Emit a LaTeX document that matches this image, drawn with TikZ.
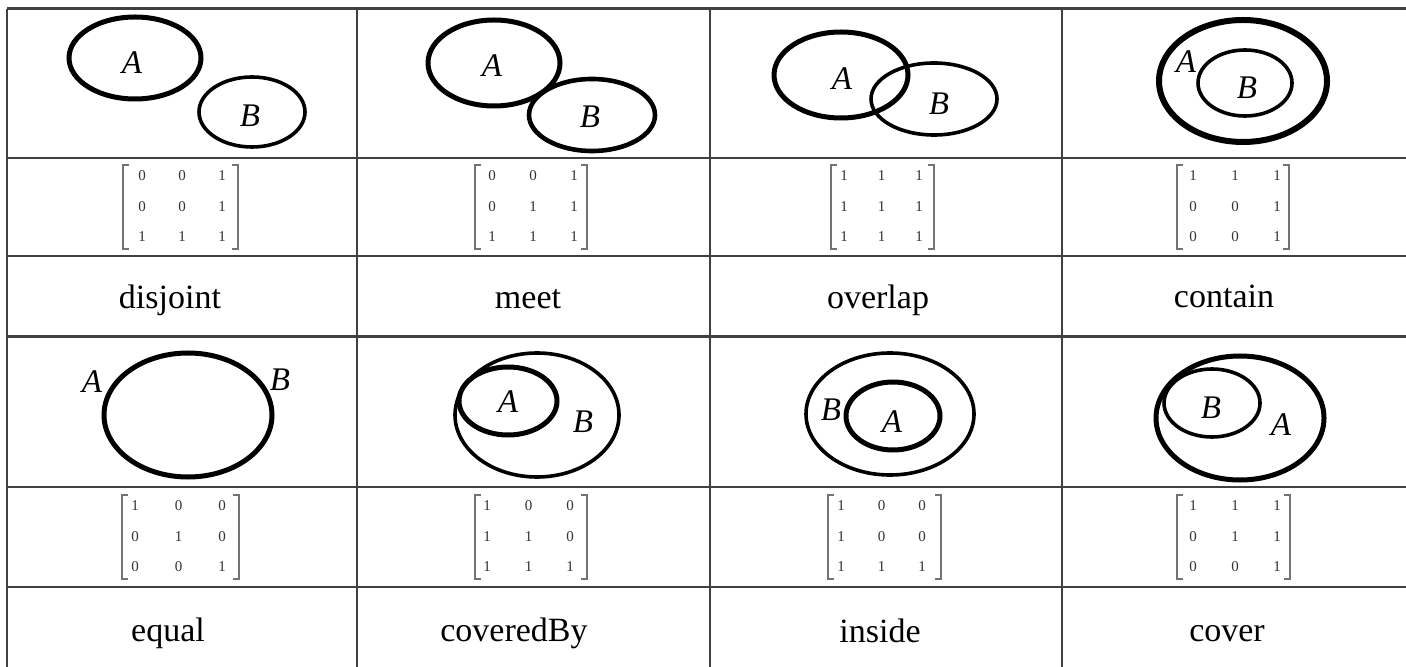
\documentclass[tikz,border=0pt]{standalone}
\usepackage{fontspec}
\setmainfont{Liberation Serif}
\begin{document}
\begin{tikzpicture}[x=0.5pt,y=-0.5pt,
  grid/.style={draw=black!75,line width=1pt},
  heavy/.style={draw=black!75,line width=1.5pt},
  rimA/.style={draw=black,line width=2.5pt},
  rimB/.style={draw=black,line width=1.8pt},
  setlbl/.style={font=\fontsize{16.5}{16}\selectfont\itshape,inner sep=0pt},
  namelbl/.style={font=\fontsize{17}{17}\selectfont,inner sep=0pt,anchor=base},
  entry/.style={font=\fontsize{7.5}{8}\selectfont,inner sep=0pt,text=black!80},
  brk/.style={draw=black!55,line width=0.6pt}]
\useasboundingbox (0,0) rectangle (1406,667);
\fill[white] (0,0) rectangle (1406,667);

% 3x3 intersection matrix: name, left, right, top, first column x, column step, entries
\newcommand\relmatrix[7]{%
  \draw[brk] (#2+6,#4) -- (#2,#4) -- (#2,#4+84) -- (#2+6,#4+84);
  \draw[brk] (#3-6,#4) -- (#3,#4) -- (#3,#4+84) -- (#3-6,#4+84);
  \foreach \v [count=\k from 0] in {#7} {
    \pgfmathtruncatemacro\ci{mod(\k,3)}
    \pgfmathtruncatemacro\ri{div(\k,3)}
    \node[entry] (#1-\k) at (#5+\ci*#6,#4+11+\ri*30.5) {\v};
  }%
}

% table rules
\foreach \yy in {158,256,487,587} \draw[grid] (7,\yy) -- (1406,\yy);
\foreach \yy in {9,337} \draw[heavy] (7,\yy) -- (1406,\yy);
\foreach \xx in {7,357,710,1062} \draw[grid] (\xx,9) -- (\xx,667);

% disjoint
\draw[rimA] (135,58) ellipse [x radius=66,y radius=41];
\draw[rimB] (252,112) ellipse [x radius=53,y radius=35];
\node[setlbl] (dA) at (132,63) {A};
\node[setlbl] (dB) at (250,116) {B};
\relmatrix{mdis}{123}{238}{165}{142}{40}{0,0,1,0,0,1,1,1,1}
\node[namelbl] (ndis) at (170,309) {disjoint};

% meet
\draw[rimA] (494,63) ellipse [x radius=66,y radius=43];
\draw[rimA,line width=2.3pt] (592,115) ellipse [x radius=63,y radius=36];
\node[setlbl] (mA) at (492,66) {A};
\node[setlbl] (mB) at (590,117) {B};
\relmatrix{mmeet}{475}{587}{165}{492}{41}{0,0,1,0,1,1,1,1,1}
\node[namelbl] (nmeet) at (528,309) {meet};

% overlap
\draw[rimA] (841,75) ellipse [x radius=67,y radius=43];
\draw[rimB] (934,99) ellipse [x radius=63,y radius=36];
\node[setlbl] (oA) at (842,79) {A};
\node[setlbl] (oB) at (939,104) {B};
\relmatrix{mov}{831}{934}{165}{844}{37.5}{1,1,1,1,1,1,1,1,1}
\node[namelbl] (nov) at (878,309) {overlap};

% contain
\draw[rimA,line width=3pt] (1243,81) ellipse [x radius=84,y radius=61];
\draw[rimB] (1245,83) ellipse [x radius=47,y radius=33];
\node[setlbl] (cA) at (1186,62) {A};
\node[setlbl] (cB) at (1247,88) {B};
\relmatrix{mcon}{1177}{1289}{165}{1193}{42}{1,1,1,0,0,1,0,0,1}
\node[namelbl] (ncon) at (1224,308) {contain};

% equal
\draw[rimA] (188,415) ellipse [x radius=84,y radius=62];
\node[setlbl] (eA) at (92,382) {A};
\node[setlbl] (eB) at (280,380) {B};
\relmatrix{meq}{122}{239}{495}{135}{43.5}{1,0,0,0,1,0,0,0,1}
\node[namelbl] (neq) at (168,641) {equal};

% coveredBy
\draw[rimB] (537,415) ellipse [x radius=82,y radius=62];
\draw[rimA] (508,401) ellipse [x radius=49,y radius=34];
\node[setlbl] (vA) at (508,402) {A};
\node[setlbl] (vB) at (583,422) {B};
\relmatrix{mcb}{475}{587}{495}{487}{41.5}{1,0,0,1,1,0,1,1,1}
\node[namelbl] (ncb) at (514,641) {coveredBy};

% inside
\draw[rimB] (890,414) ellipse [x radius=84,y radius=61];
\draw[rimA] (893,416) ellipse [x radius=47,y radius=34];
\node[setlbl] (iB) at (831,410) {B};
\node[setlbl] (iA) at (892,422) {A};
\relmatrix{mins}{828}{941}{495}{841}{40.5}{1,0,0,1,0,0,1,1,1}
\node[namelbl] (nins) at (880,642) {inside};

% cover
\draw[rimA] (1240,418) ellipse [x radius=84,y radius=62];
\draw[rimB] (1212,403) ellipse [x radius=48,y radius=34];
\node[setlbl] (kB) at (1211,408) {B};
\node[setlbl] (kA) at (1281,425) {A};
\relmatrix{mcov}{1177}{1290}{495}{1193}{42}{1,1,1,0,1,1,0,0,1}
\node[namelbl] (ncov) at (1227,641) {cover};
\end{tikzpicture}
\end{document}
